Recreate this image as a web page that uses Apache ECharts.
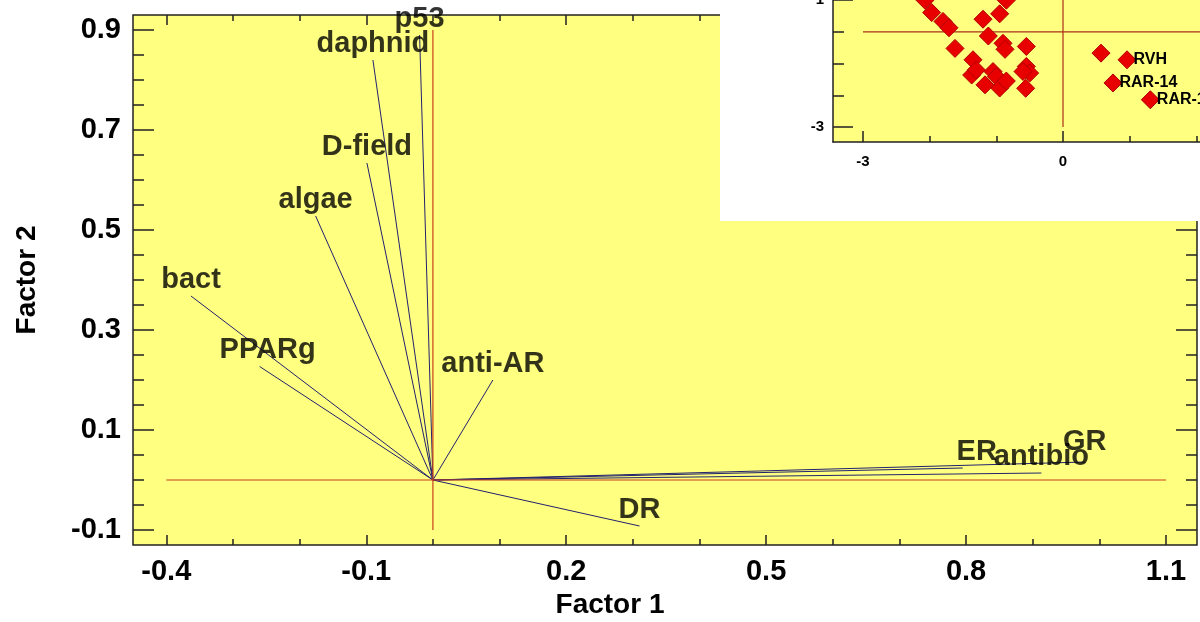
<!DOCTYPE html>
<html>
<head>
<meta charset="utf-8">
<script src="https://cdn.jsdelivr.net/npm/echarts@6.0.0/dist/echarts.min.js"></script>
<style>
html, body { margin: 0; padding: 0; background: #fff; }
#chart { width: 1200px; height: 622px; }
</style>
</head>
<body>
<div id="chart"></div>
<script>
// loadings (vectors from the origin)
var loadingNames = ['p53', 'daphnid', 'D-field', 'algae', 'bact', 'PPARg', 'anti-AR', 'DR', 'ER', 'antibio', 'GR'];
var loadingF1 = [-0.02, -0.09, -0.099, -0.176, -0.363, -0.26, 0.09, 0.31, 0.795, 0.913, 0.978];
var loadingF2 = [0.89, 0.84, 0.634, 0.528, 0.368, 0.227, 0.2, -0.092, 0.024, 0.014, 0.036];

// ticks of the main plot
var xMajorTicks = [-0.4, -0.1, 0.2, 0.5, 0.8, 1.1];
var xMinorTicks = [-0.4, -0.3, -0.2, -0.1, 0, 0.1, 0.2, 0.3, 0.4, 0.5, 0.6, 0.7, 0.8, 0.9, 1.0, 1.1];
var yMajorTicks = [-0.1, 0.1, 0.3, 0.5, 0.7, 0.9];
var yMinorTicks = [-0.1, -0.05, 0, 0.05, 0.1, 0.15, 0.2, 0.25, 0.3, 0.35, 0.4, 0.45, 0.5, 0.55, 0.6, 0.65, 0.7, 0.75, 0.8, 0.85, 0.9];

// reference cross of the main plot
var crossH = [[-0.4, 0], [1.1, 0]];
var crossV = [[0, -0.1], [0, 0.9]];

// scores (inset)
var scoreX = [-2.07, -1.97, -1.8, -1.71, -1.62, -1.2, -0.95, -0.85, -1.12, -0.9, -0.87, -0.55, -1.35, -1.37, -1.3, -1.05, -1.0, -1.17, -0.95, -0.85, -0.55, -0.5, -0.6, -0.56, 0.57, 0.96, 0.75, 1.31];
var scoreY = [1.0, 0.61, 0.33, 0.13, -0.52, 0.4, 0.57, 1.0, -0.13, -0.36, -0.55, -0.46, -0.88, -1.36, -1.2, -1.25, -1.41, -1.67, -1.77, -1.55, -1.09, -1.3, -1.25, -1.78, -0.67, -0.88, -1.61, -2.14];
var scoreLabels = ['', '', '', '', '', '', '', '', '', '', '', '', '', '', '', '', '', '', '', '', '', '', '', '', '', 'RVH', 'RAR-14', 'RAR-1'];

var insetXMajor = [-3, 0];
var insetXMinor = [-3, -2, -1, 0, 1, 2];
var insetYMajor = [-3, 1];
var insetYMinor = [-3, -2, -1, 0, 1];
var insetCrossH = [[-3, 0], [2.06, 0]];
var insetCrossV = [[0, -3], [0, 1.006]];

var font = '"Liberation Sans", Arial, Helvetica, sans-serif';
var ink = '#000';
// small label nudges (px)
var labelNudge = { 'ER': [14, 0], 'GR': [0, -4], 'PPARg': [8, 0] };

function axis(o) {
    var a = {
        type: 'value',
        gridIndex: o.grid,
        position: o.pos,
        min: o.min,
        max: o.max,
        z: o.z || 0,
        axisLine: { show: !!o.line, onZero: false, lineStyle: { color: '#222', width: 1.5 } },
        splitLine: { show: false },
        axisTick: { show: true, inside: true, length: o.len, customValues: o.ticks, lineStyle: { color: '#222', width: 1.5 } },
        axisLabel: { show: false }
    };
    if (o.fs) {
        a.axisLabel = {
            show: true, customValues: o.ticks, margin: o.margin,
            color: ink, fontFamily: font, fontWeight: 'bold', fontSize: o.fs,
            formatter: function (v) { return String(Math.round(v * 10) / 10); }
        };
    }
    if (o.name) {
        a.name = o.name;
        a.nameLocation = 'middle';
        a.nameGap = o.nameGap;
        a.nameTextStyle = { color: ink, fontFamily: font, fontWeight: 'bold', fontSize: 28, padding: o.namePad || 0 };
    }
    return a;
}

var vectorData = [], labelData = [];
for (var i = 0; i < loadingNames.length; i++) {
    vectorData.push({ coords: [[0, 0], [loadingF1[i], loadingF2[i]]] });
    var item = { name: loadingNames[i], value: [loadingF1[i], loadingF2[i]] };
    if (labelNudge[loadingNames[i]]) item.label = { offset: labelNudge[loadingNames[i]] };
    labelData.push(item);
}
var scoreData = [];
for (var k = 0; k < scoreX.length; k++) {
    scoreData.push({ name: scoreLabels[k], value: [scoreX[k], scoreY[k]] });
}

var myChart = echarts.init(document.getElementById('chart'), null, { renderer: 'canvas' });

var option = {
    backgroundColor: '#fff',
    animation: false,
    graphic: [{
        type: 'rect', z: 5,
        shape: { x: 720, y: 0, width: 480, height: 221 },
        style: { fill: '#fff' }
    }],
    grid: [
        { left: 133, top: 15, width: 1064, height: 530, outerBoundsMode: 'none', show: true, backgroundColor: '#ffff80', borderColor: '#222', borderWidth: 1.5 },
        { left: 833, top: 0, right: 0, height: 142, outerBoundsMode: 'none', show: true, backgroundColor: '#ffff80', borderWidth: 0, z: 10 }
    ],
    xAxis: [
        axis({ grid: 0, pos: 'bottom', min: -0.45, max: 1.1465, ticks: xMajorTicks, len: 10, fs: 29, margin: 12, name: 'Factor 1', nameGap: 42, namePad: [0, 110, 0, 0] }),
        axis({ grid: 0, pos: 'bottom', min: -0.45, max: 1.1465, ticks: xMinorTicks, len: 6 }),
        axis({ grid: 0, pos: 'top', min: -0.45, max: 1.1465, ticks: xMajorTicks, len: 10 }),
        axis({ grid: 0, pos: 'top', min: -0.45, max: 1.1465, ticks: xMinorTicks, len: 6 }),
        axis({ grid: 1, pos: 'bottom', min: -3.45, max: 2.055, ticks: insetXMajor, len: 11, fs: 15, margin: 12, z: 10, line: true }),
        axis({ grid: 1, pos: 'bottom', min: -3.45, max: 2.055, ticks: insetXMinor, len: 6, z: 10 })
    ],
    yAxis: [
        axis({ grid: 0, pos: 'left', min: -0.13, max: 0.93, ticks: yMajorTicks, len: 21, fs: 29, margin: 12, name: 'Factor 2', nameGap: 92 }),
        axis({ grid: 0, pos: 'left', min: -0.13, max: 0.93, ticks: yMinorTicks, len: 11 }),
        axis({ grid: 0, pos: 'right', min: -0.13, max: 0.93, ticks: yMajorTicks, len: 21 }),
        axis({ grid: 0, pos: 'right', min: -0.13, max: 0.93, ticks: yMinorTicks, len: 11 }),
        axis({ grid: 1, pos: 'left', min: -3.473, max: 1.006, ticks: insetYMajor, len: 20, fs: 15, margin: 9, z: 10, line: true }),
        axis({ grid: 1, pos: 'left', min: -3.473, max: 1.006, ticks: insetYMinor, len: 11, z: 10 })
    ],
    series: [
        {
            type: 'line', xAxisIndex: 0, yAxisIndex: 0, data: crossH, symbol: 'none', silent: true,
            lineStyle: { color: '#c8401c', width: 1.2 }
        },
        {
            type: 'line', xAxisIndex: 0, yAxisIndex: 0, data: crossV, symbol: 'none', silent: true,
            lineStyle: { color: '#c8401c', width: 1.2 }
        },
        {
            type: 'lines', coordinateSystem: 'cartesian2d', xAxisIndex: 0, yAxisIndex: 0,
            data: vectorData, lineStyle: { color: '#22226e', width: 1, opacity: 1 }
        },
        {
            type: 'scatter', xAxisIndex: 0, yAxisIndex: 0, data: labelData, symbolSize: 0,
            label: {
                show: true, position: 'top', distance: 2, formatter: '{b}',
                color: ink, fontFamily: font, fontWeight: 'bold', fontSize: 29
            }
        },
        {
            type: 'line', xAxisIndex: 4, yAxisIndex: 4, data: insetCrossH, symbol: 'none', silent: true, z: 11,
            lineStyle: { color: '#a8301a', width: 1.2 }
        },
        {
            type: 'line', xAxisIndex: 4, yAxisIndex: 4, data: insetCrossV, symbol: 'none', silent: true, z: 11,
            lineStyle: { color: '#a8301a', width: 1.2 }
        },
        {
            type: 'scatter', xAxisIndex: 4, yAxisIndex: 4, data: scoreData, z: 12, clip: false,
            symbol: 'diamond', symbolSize: 18,
            itemStyle: { color: '#e80000', borderColor: '#b00000', borderWidth: 1, opacity: 1 },
            label: {
                show: true, position: 'right', distance: -3, formatter: '{b}',
                color: ink, fontFamily: font, fontWeight: 'bold', fontSize: 16
            }
        }
    ]
};

myChart.setOption(option);
</script>
</body>
</html>
